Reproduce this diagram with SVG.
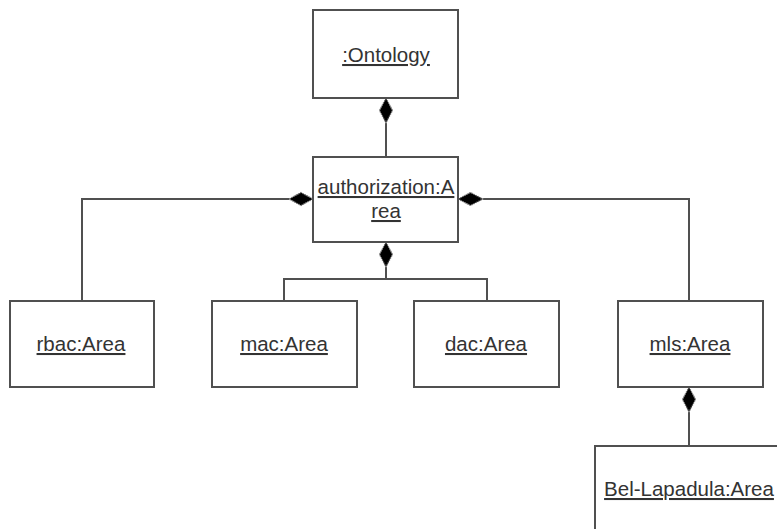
<svg xmlns="http://www.w3.org/2000/svg" width="777" height="529" viewBox="0 0 777 529">
  <style>
    .box { fill: #ffffff; stroke: #505050; stroke-width: 2; }
    .lbl { font-family: "Liberation Sans", Arial, sans-serif; font-size: 20.5px; fill: #333333; text-anchor: middle; text-decoration: underline; }
    .link { fill: none; stroke: #505050; stroke-width: 2; }
    .dia { fill: #000000; stroke: #777777; stroke-width: 1.2; stroke-dasharray: 1.5 1; }
  </style>
  <rect width="777" height="529" fill="#ffffff"/>

  <g id="connectors">
    <!-- Ontology owns authorization -->
    <line class="link" x1="386" y1="123" x2="386" y2="157"/>
    <polygon class="dia" points="386,98 392.5,110.5 386,123 379.5,110.5"/>
    <!-- authorization owns rbac -->
    <polyline class="link" points="289,199 82,199 82,301"/>
    <polygon class="dia" points="313,199 301,205.5 289,199 301,192.5"/>
    <!-- authorization owns mls -->
    <polyline class="link" points="483,199 689,199 689,301"/>
    <polygon class="dia" points="458,199 470.5,205.5 483,199 470.5,192.5"/>
    <!-- authorization owns mac and dac -->
    <line class="link" x1="386" y1="267" x2="386" y2="279"/>
    <polyline class="link" points="284,301 284,279 487,279 487,301"/>
    <polygon class="dia" points="386,242 392.5,254.5 386,267 379.5,254.5"/>
    <!-- mls owns Bel-Lapadula -->
    <line class="link" x1="689" y1="412" x2="689" y2="446"/>
    <polygon class="dia" points="689,387 695.5,399.5 689,412 682.5,399.5"/>
  </g>

  <g id="ontology">
    <rect class="box" x="313" y="10" width="145" height="88"/>
    <text class="lbl" x="386" y="62">:Ontology</text>
  </g>

  <g id="authorization">
    <rect class="box" x="313" y="157" width="145" height="85"/>
    <text class="lbl" x="386" y="194">authorization:A</text>
    <text class="lbl" x="386" y="218">rea</text>
  </g>

  <g id="rbac">
    <rect class="box" x="10" y="301" width="144" height="86"/>
    <text class="lbl" x="81" y="351">rbac:Area</text>
  </g>

  <g id="mac">
    <rect class="box" x="212" y="301" width="145" height="86"/>
    <text class="lbl" x="284" y="351">mac:Area</text>
  </g>

  <g id="dac">
    <rect class="box" x="414" y="301" width="145" height="86"/>
    <text class="lbl" x="486" y="351">dac:Area</text>
  </g>

  <g id="mls">
    <rect class="box" x="618" y="301" width="145" height="86"/>
    <text class="lbl" x="690" y="351">mls:Area</text>
  </g>

  <g id="bel-lapadula">
    <rect class="box" x="595" y="446" width="190" height="100"/>
    <text class="lbl" x="689" y="496">Bel-Lapadula:Area</text>
  </g>
</svg>
